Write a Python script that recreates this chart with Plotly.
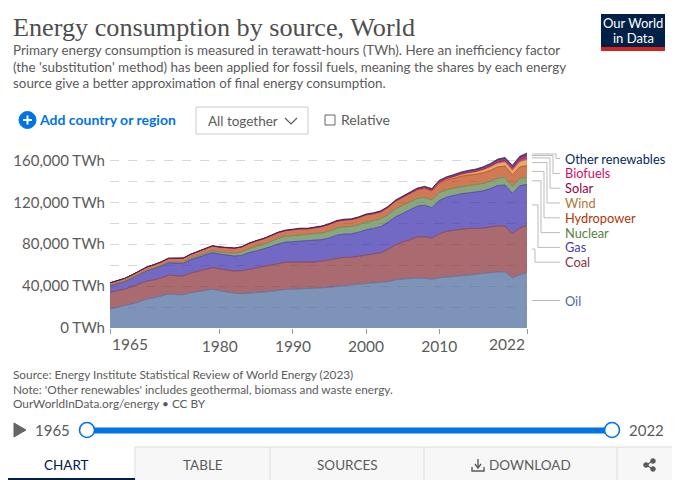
import plotly.graph_objects as go

years = list(range(1965, 2023))

oil = [18100, 19500, 21000, 23000, 25000, 27500, 28800, 30500, 32500, 32000,
       31700, 33500, 34800, 36000, 37000, 35500, 34200, 33100, 32800, 33200,
       33200, 34300, 35000, 36000, 36800, 37000, 37300, 37500, 37500, 38300,
       38900, 39800, 40800, 41100, 41900, 42500, 42900, 43200, 44200, 46000,
       46700, 47200, 47800, 47400, 46500, 48000, 48500, 49100, 49600, 50100,
       51200, 52200, 53000, 53500, 53600, 47800, 50700, 52970]
coal = [16100, 16200, 16000, 16500, 17000, 17200, 17200, 17300, 17900, 17900,
        18000, 18900, 19500, 19800, 20600, 20900, 21000, 21300, 21900, 22900,
        23900, 24300, 25100, 25800, 26000, 25900, 25600, 25400, 25500, 25600,
        26000, 26500, 26700, 26300, 26500, 27300, 27800, 28600, 31000, 33300,
        35300, 37100, 39100, 39700, 39300, 41900, 43800, 44200, 44900, 44900,
        43800, 43100, 43400, 44000, 43700, 42300, 44700, 44850]
gas = [6300, 6900, 7400, 8100, 8900, 9900, 10700, 11300, 11900, 12000,
       12000, 12700, 13000, 13500, 14400, 14200, 14400, 14300, 14600, 15900,
       16500, 16700, 17600, 18400, 19200, 19500, 20000, 20000, 20200, 20500,
       21100, 22300, 22200, 22500, 23100, 24000, 24300, 25000, 25800, 26700,
       27300, 28200, 29400, 30100, 29100, 31800, 32500, 33300, 33700, 34000,
       34700, 35600, 36700, 38500, 39200, 38300, 40300, 39300]
nuclear = [70, 100, 120, 150, 180, 220, 310, 400, 590, 730,
           1000, 1200, 1500, 1700, 1800, 2000, 2400, 2600, 3000, 3600,
           4300, 4600, 5000, 5400, 5500, 5700, 6000, 6000, 6200, 6300,
           6600, 6800, 6800, 6900, 7200, 7300, 7400, 7400, 7300, 7600,
           7700, 7700, 7500, 7500, 7400, 7600, 7300, 6900, 6900, 7000,
           7000, 7000, 7000, 7100, 7300, 6900, 7100, 6700]
hydropower = [2500, 2700, 2750, 2850, 3000, 3200, 3350, 3500, 3550, 3850,
              3900, 3900, 4050, 4350, 4500, 4600, 4650, 4800, 5000, 5150,
              5250, 5350, 5400, 5500, 5500, 5650, 5800, 5750, 6100, 6150,
              6500, 6550, 6650, 6700, 6700, 6900, 6700, 6750, 6750, 7300,
              7600, 7900, 8100, 8500, 8500, 9000, 9200, 9500, 9800, 10000,
              10000, 10300, 10400, 10700, 10800, 11000, 10900, 11300]
wind = [0, 0, 0, 0, 0, 0, 0, 0, 0, 0,
        0, 0, 0, 0, 0, 0, 0, 0, 0, 0,
        0, 0, 0, 5, 8, 10, 12, 14, 16, 18,
        20, 25, 35, 50, 65, 85, 100, 140, 170, 230,
        280, 360, 460, 590, 740, 930, 1170, 1390, 1720, 1910,
        2200, 2560, 3000, 3300, 3700, 4100, 4700, 5500]
solar = [0, 0, 0, 0, 0, 0, 0, 0, 0, 0,
         0, 0, 0, 0, 0, 0, 0, 0, 0, 0,
         0, 0, 0, 0, 0, 1, 1, 1, 2, 2,
         2, 2, 3, 3, 4, 4, 5, 6, 7, 8,
         10, 15, 20, 35, 55, 90, 170, 270, 370, 500,
         650, 850, 1150, 1500, 1800, 2200, 2700, 3500]
biofuels = [0, 0, 0, 0, 0, 0, 0, 0, 0, 0,
            0, 0, 0, 0, 0, 0, 0, 0, 0, 0,
            0, 0, 0, 0, 0, 100, 100, 100, 100, 110,
            110, 110, 110, 110, 110, 110, 120, 140, 160, 180,
            220, 300, 400, 560, 600, 680, 690, 700, 780, 840,
            860, 900, 950, 1050, 1100, 1000, 1050, 1100]
other_renewables = [150, 160, 170, 180, 190, 200, 210, 220, 230, 240,
                    250, 260, 270, 280, 290, 300, 320, 340, 360, 380,
                    400, 420, 440, 460, 480, 500, 520, 530, 540, 550,
                    570, 590, 600, 620, 630, 650, 660, 680, 700, 740,
                    780, 810, 850, 890, 930, 1000, 1050, 1120, 1200, 1260,
                    1320, 1400, 1480, 1560, 1640, 1680, 1750, 1800]

series_names = ["Oil", "Coal", "Gas", "Nuclear", "Hydropower", "Wind", "Solar", "Biofuels", "Other renewables"]
series_values = [oil, coal, gas, nuclear, hydropower, wind, solar, biofuels, other_renewables]
line_colors = ["#4c6a9c", "#883039", "#3c2fae", "#578145", "#b13507", "#bc8e5a", "#970046", "#cf0a66", "#00295b"]
fill_colors = ["rgba(76,106,156,0.72)", "rgba(136,48,57,0.72)", "rgba(60,47,174,0.72)", "rgba(87,129,69,0.7)",
               "rgba(190,70,20,0.72)", "rgba(222,150,50,0.78)", "rgba(151,0,70,0.72)", "rgba(207,10,102,0.72)",
               "rgba(0,41,91,0.8)"]
label_colors = ["#4c6a9c", "#883039", "#4c3db5", "#578145", "#b13507", "#b0763a", "#970046", "#cf0a66", "#00295b"]
label_y = [300.5, 262.2, 247.4, 232.6, 217.8, 203, 188.2, 173.4, 158.6]

y_ticks = [0, 20000, 40000, 60000, 80000, 100000, 120000, 140000, 160000]
y_labels = ["0 TWh", "", "40,000 TWh", "", "80,000 TWh", "", "120,000 TWh", "", "160,000 TWh"]
x_ticks = [1965, 1980, 1990, 2000, 2010, 2022]
x_labels = ["", "1980", "1990", "2000", "2010", ""]

title = "Energy consumption by source, World"
subtitle = ["Primary energy consumption is measured in terawatt-hours (TWh). Here an inefficiency factor",
            "(the 'substitution' method) has been applied for fossil fuels, meaning the shares by each energy",
            "source give a better approximation of final energy consumption."]
footer = ["Source: Energy Institute Statistical Review of World Energy (2023)",
          "Note: 'Other renewables' includes geothermal, biomass and waste energy.",
          "OurWorldInData.org/energy • CC BY"]

# plot area in window pixels; the page body adds an 8px margin
PAGE = 8
L, R, T, B = 110, 527, 152, 328
Y_MAX = 168000
FONT = "Lato, 'Open Sans', sans-serif"
GREY = "#5b5b5b"
BLUE = "#0073e6"
NAVY = "#002147"


def px(x):
    return (x - L) / (R - L)


def py(y):
    return (B - y) / (B - T)


def y_pixel(value):
    return B - value / Y_MAX * (B - T)


shapes = []
annotations = []


def text(x, y, s, size=14, color=GREY, anchor="left", family=FONT):
    annotations.append(dict(x=px(x), y=py(y), xref="paper", yref="paper", text=s, showarrow=False,
                            xanchor=anchor, yanchor="middle", xshift=-1 if anchor == "left" else 0,
                            borderpad=0, align=anchor, font=dict(size=size, color=color, family=family)))


def rect(x0, y0, x1, y1, fill=None, line=None, width=1):
    shapes.append(dict(type="rect", xref="paper", yref="paper", x0=px(x0), x1=px(x1), y0=py(y0), y1=py(y1),
                       fillcolor=fill or "rgba(0,0,0,0)", line=dict(color=line or "rgba(0,0,0,0)", width=width)))


def circle(cx, cy, r, fill, line=None, width=1):
    shapes.append(dict(type="circle", xref="paper", yref="paper", x0=px(cx - r), x1=px(cx + r),
                       y0=py(cy - r), y1=py(cy + r), fillcolor=fill,
                       line=dict(color=line or fill, width=width)))


def path(points, color="#bbbbbb", width=1, fill=None):
    d = "M " + " L ".join(f"{px(x):.5f},{py(y):.5f}" for x, y in points)
    if fill:
        d += " Z"
    shapes.append(dict(type="path", xref="paper", yref="paper", path=d, fillcolor=fill or "rgba(0,0,0,0)",
                       line=dict(color=color, width=width)))


fig = go.Figure()
for name, values, line_color, fill_color in zip(series_names, series_values, line_colors, fill_colors):
    fig.add_trace(go.Scatter(x=years, y=values, name=name, mode="lines", stackgroup="one",
                             line=dict(color=line_color, width=0.7), fillcolor=fill_color,
                             hoverinfo="x+y+name"))

# series labels with their connector lines, from the 2022 band middles
base = 0
for i, (name, values) in enumerate(zip(series_names, series_values)):
    mid = y_pixel(base + values[-1] / 2)
    base += values[-1]
    if i == 0:
        path([(532, label_y[i]), (560, label_y[i])])
    else:
        elbow = 532 + 3 * i
        path([(532, mid), (elbow, mid), (elbow, label_y[i]), (560, label_y[i])])
    text(565, label_y[i], name, size=12.8, color=label_colors[i])

# header
text(13, 27, title, size=26.2, color="#4e4e4e", family="'Liberation Serif', serif")
for y, line in zip([50, 67, 83], subtitle):
    text(13, y, line, size=13.4, color=GREY)

# logo
rect(601, 14, 665, 51, fill=NAVY)
rect(601, 47, 665, 51, fill="#ce261e")
text(633, 23.5, "Our World", size=13, color="white", anchor="center")
text(633, 38, "in Data", size=13, color="white", anchor="center")

# controls
circle(27.5, 120, 8.5, BLUE)
path([(23, 120), (32, 120)], color="white", width=2)
path([(27.5, 115.5), (27.5, 124.5)], color="white", width=2)
text(39, 120, "<b>Add country or region</b>", size=14, color=BLUE)
shapes.append(dict(type="rect", xref="paper", yref="paper", x0=px(196), x1=px(308), y0=py(107), y1=py(134),
                   line=dict(color="#cccccc", width=1), fillcolor="white"))
text(208, 121, "All together", size=13.5, color=GREY)
path([(285, 118), (291, 124), (297, 118)], color=GREY, width=1.2)
rect(325, 115, 335, 125, line="#666666", width=1)
text(341, 120, "Relative", size=14, color=GREY)

# x labels at the axis ends are pushed inwards
annotations.append(dict(x=1965, y=0, xref="x", yref="paper", text="1965", showarrow=False, xanchor="left",
                        yanchor="top", yshift=-5, font=dict(size=15.5, color=GREY, family=FONT)))
annotations.append(dict(x=2022, y=0, xref="x", yref="paper", text="2022", showarrow=False, xanchor="right",
                        yanchor="top", yshift=-5, font=dict(size=15.5, color=GREY, family=FONT)))

# footer
for y, line in zip([374, 389, 403], footer):
    text(13, y, line, size=11.8, color=GREY)

# timeline
path([(14, 423), (26, 430), (14, 437)], color="#666666", fill="#666666")
text(35, 430, "1965", size=15, color=GREY)
text(629, 430, "2022", size=15, color=GREY)
rect(87, 427.5, 612, 433.5, fill=BLUE)
circle(87, 430, 7.5, "white", line=BLUE, width=1.6)
circle(612, 430, 7.5, "white", line=BLUE, width=1.6)

# tabs
rect(135, 447, 680, 480, fill="#f7f7f7")
path([(135, 447), (680, 447)], color="#dddddd")
for x in [135, 270, 424, 617]:
    path([(x, 447), (x, 480)], color="#dddddd")
rect(0, 478, 135, 480, fill=NAVY)
text(66, 465, "CHART", size=13.5, color=NAVY, anchor="center")
text(203, 465, "TABLE", size=13.5, color=GREY, anchor="center")
text(347, 465, "SOURCES", size=13.5, color=GREY, anchor="center")
text(530, 465, "DOWNLOAD", size=13.5, color=GREY, anchor="center")
path([(478, 459), (478, 467)], color=GREY, width=1.4)
path([(475, 464), (478, 468), (481, 464)], color=GREY, width=1.4)
path([(472, 467), (472, 471), (484, 471), (484, 467)], color=GREY, width=1.4)
path([(646, 465), (653, 461)], color=GREY, width=1.2)
path([(646, 465), (653, 469)], color=GREY, width=1.2)
circle(646, 465, 2.3, GREY)
circle(653, 461, 2.3, GREY)
circle(653, 469, 2.3, GREY)

fig.update_layout(
    width=680 - PAGE, height=480 - PAGE, autosize=False, showlegend=False,
    paper_bgcolor="white", plot_bgcolor="white",
    margin=dict(l=L - PAGE, r=680 - R, t=T - PAGE, b=480 - B),
    font=dict(family=FONT, color=GREY),
    xaxis=dict(range=[1965, 2022], tickmode="array", tickvals=x_ticks, ticktext=x_labels, automargin=False,
               ticks="outside", ticklen=5, tickcolor="#999999", showgrid=False, zeroline=False,
               tickfont=dict(size=15.5, color=GREY), ticklabelstandoff=-1, fixedrange=True),
    yaxis=dict(range=[0, Y_MAX], tickmode="array", tickvals=y_ticks, ticktext=y_labels, automargin=False,
               showgrid=True, gridcolor="#d8d8d8", griddash="dash", gridwidth=1, zeroline=False,
               tickfont=dict(size=15, color=GREY), ticks="", ticklabelstandoff=4, fixedrange=True),
    shapes=shapes, annotations=annotations,
)

fig.write_html("out.html", config={"displayModeBar": False})
